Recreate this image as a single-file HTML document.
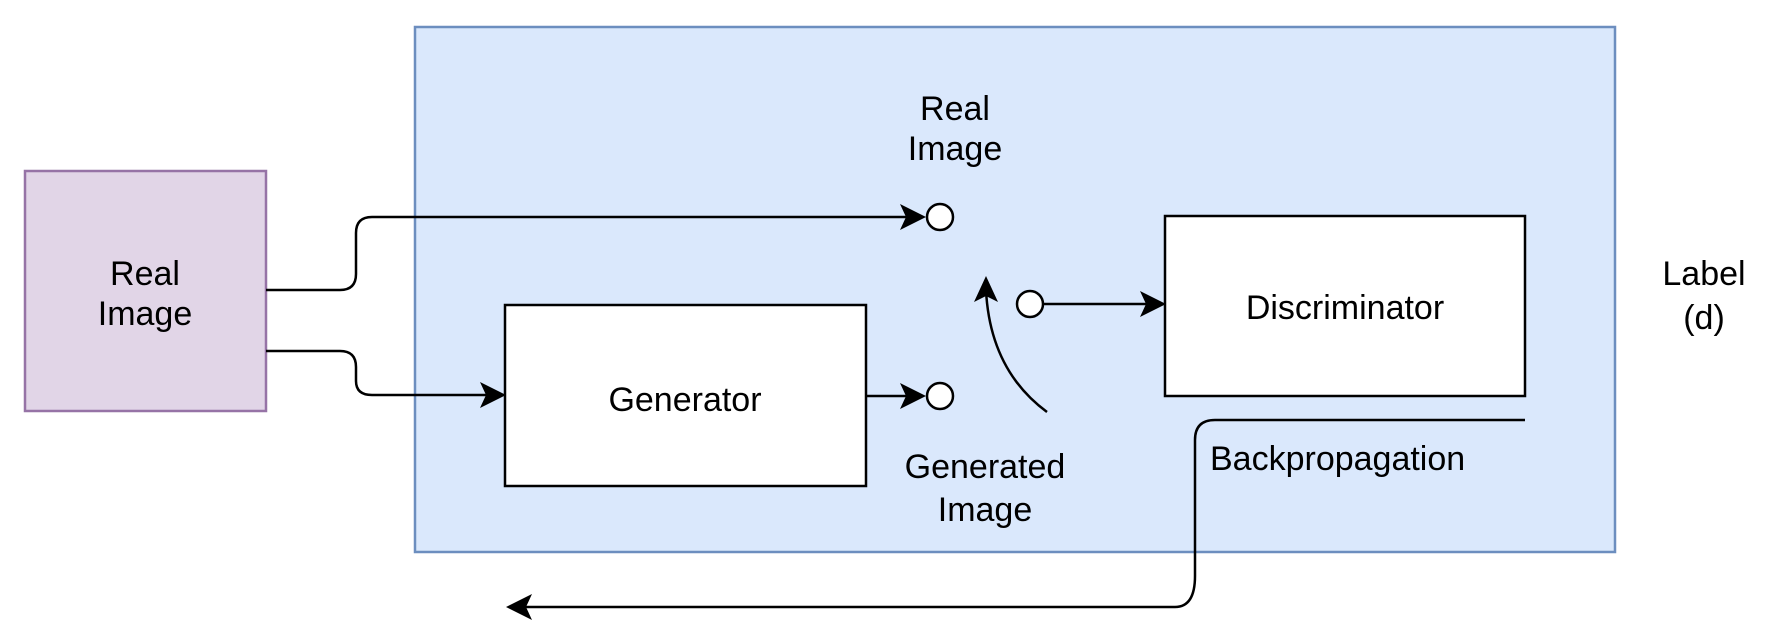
<!DOCTYPE html>
<html><head><meta charset="utf-8"><style>
html,body{margin:0;padding:0;background:#fff;}
</style></head><body>
<svg width="1765" height="634" viewBox="0 0 1765 634" xmlns="http://www.w3.org/2000/svg" font-family="Liberation Sans, sans-serif" font-size="34" fill="#000">
<rect x="415" y="27" width="1200" height="525" fill="#dae8fc" stroke="#6c8ebf" stroke-width="2.5"/>
<rect x="25" y="171" width="241" height="240" fill="#e1d5e7" stroke="#9673a6" stroke-width="2.5"/>
<text x="145" y="285" text-anchor="middle">Real</text>
<text x="145" y="325" text-anchor="middle">Image</text>
<rect x="505" y="305" width="361" height="181" fill="#fff" stroke="#000" stroke-width="2.5"/>
<text x="685" y="411" text-anchor="middle">Generator</text>
<rect x="1165" y="216" width="360" height="180" fill="#fff" stroke="#000" stroke-width="2.5"/>
<text x="1345" y="319" text-anchor="middle">Discriminator</text>
<g fill="none" stroke="#000" stroke-width="2.5">
<path d="M266 290 H340 Q356 290 356 274 V233 Q356 217 372 217 H910"/>
<path d="M266 351 H340 Q356 351 356 367 V381 Q356 395 372 395 H490"/>
<path d="M866 396 H910"/>
<path d="M1043 304 H1150"/>
<path d="M1047 412 Q990 370 986 290"/>
<path d="M1525 420 H1215 Q1195 420 1195 440 V576 Q1195 607 1175 607 H520"/>
</g>
<g fill="#000">
<path d="M926 217 L900 204 L906 217 L900 230 Z"/>
<path d="M506 395 L480 382 L486 395 L480 408 Z"/>
<path d="M926 396 L900 383 L906 396 L900 409 Z"/>
<path d="M1166 304 L1140 291 L1146 304 L1140 317 Z"/>
<path d="M506 607 L532 594 L526 607 L532 620 Z"/>
<path d="M986 276 L974 302 L986 296 L998 302 Z"/>
</g>
<g fill="#fff" stroke="#000" stroke-width="2.5">
<circle cx="940" cy="217" r="13"/>
<circle cx="940" cy="396" r="13"/>
<circle cx="1030" cy="304" r="13"/>
</g>
<text x="955" y="120" text-anchor="middle">Real</text>
<text x="955" y="160" text-anchor="middle">Image</text>
<text x="985" y="478" text-anchor="middle">Generated</text>
<text x="985" y="521" text-anchor="middle">Image</text>
<text x="1210" y="470">Backpropagation</text>
<text x="1704" y="285" text-anchor="middle">Label</text>
<text x="1704" y="329" text-anchor="middle">(d)</text>
</svg>
</body></html>
